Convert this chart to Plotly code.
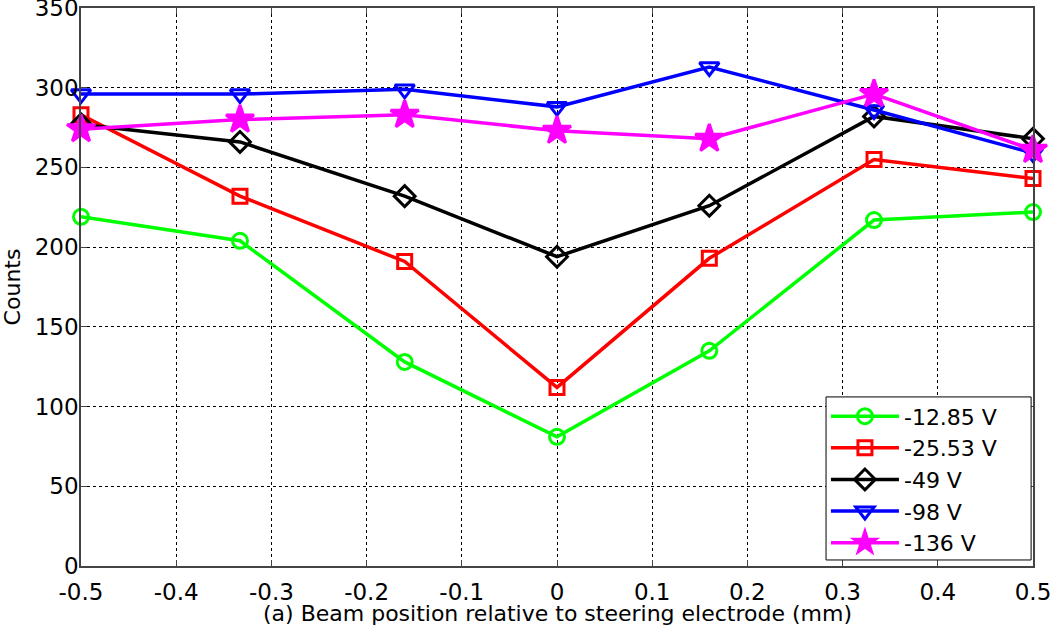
import plotly.graph_objects as go

x_pos = [-0.5, -0.333, -0.16, 0.0, 0.16, 0.333, 0.5]
names = ["-12.85 V", "-25.53 V", "-49 V", "-98 V", "-136 V"]
v_12 = [219, 204, 128, 81, 135, 217, 222]
v_25 = [283, 232, 191, 112, 193, 255, 243]
v_49 = [277, 266, 232, 194, 226, 282, 268]
v_98 = [296, 296, 299, 288, 313, 286, 259]
v_136 = [274, 280, 283, 273, 268, 296, 261]
x_ticks = [-0.5, -0.4, -0.3, -0.2, -0.1, 0, 0.1, 0.2, 0.3, 0.4, 0.5]
x_tick_text = ["-0.5", "-0.4", "-0.3", "-0.2", "-0.1", "0", "0.1", "0.2", "0.3", "0.4", "0.5"]
y_ticks = [0, 50, 100, 150, 200, 250, 300, 350]
x_title = "(a) Beam position relative to steering electrode (mm)"
y_title = "Counts"

series = [v_12, v_25, v_49, v_98, v_136]
colors = ["#00ff00", "#ff0000", "#000000", "#0000ff", "#ff00ff"]
symbols = ["circle-open", "square-open", "diamond-open", "triangle-down-open", "star"]
sizes = [15, 14, 16, 17, 21]

fig = go.Figure()
for name, vals, c, s, sz in zip(names, series, colors, symbols, sizes):
    fig.add_trace(go.Scatter(
        x=x_pos, y=vals, name=name, mode="lines+markers",
        line=dict(color=c, width=3.5),
        marker=dict(symbol=s, size=sz, color=c, line=dict(color=c, width=3)),
        cliponaxis=False,
    ))

font = "DejaVu Sans, sans-serif"
axis_common = dict(
    showgrid=True, gridcolor="black", griddash="dot", gridwidth=1,
    showline=True, linecolor="#444", linewidth=1.5, mirror="ticks",
    ticks="inside", ticklen=6, tickcolor="#444", zeroline=False,
    tickfont=dict(size=23), automargin=False, ticklabeloverflow="allow",
)
fig.update_layout(
    width=1050, height=627,
    margin=dict(l=81, r=17, t=8, b=61),
    paper_bgcolor="white", plot_bgcolor="white",
    font=dict(family=font, color="black", size=22),
    showlegend=True,
    legend=dict(
        x=0.7825, y=0.0046, xanchor="left", yanchor="bottom",
        bgcolor="rgba(0,0,0,0)", borderwidth=0,
        font=dict(size=22, family=font), tracegroupgap=0,
        itemwidth=68,
    ),
    xaxis=dict(range=[-0.5, 0.5], tickvals=x_ticks, ticktext=x_tick_text,
               ticklabelstandoff=5, **axis_common),
    yaxis=dict(range=[0, 350], tickvals=y_ticks, ticklabelstandoff=-4,
               title=dict(text=y_title, font=dict(size=22), standoff=10), **axis_common),
    shapes=[dict(type="rect", xref="paper", yref="paper",
                 x0=0.7826, x1=0.998, y0=0.0108, y1=0.303,
                 line=dict(color="black", width=1), fillcolor="white", layer="above")],
    annotations=[dict(text=x_title, xref="paper", yref="paper", x=0.5, y=0,
                      yshift=-47, yanchor="middle", showarrow=False,
                      font=dict(size=22, family=font))],
)
fig.write_html("out.html", config={"displayModeBar": False},
               post_script="document.body.style.margin='0';document.body.style.overflow='hidden';")
